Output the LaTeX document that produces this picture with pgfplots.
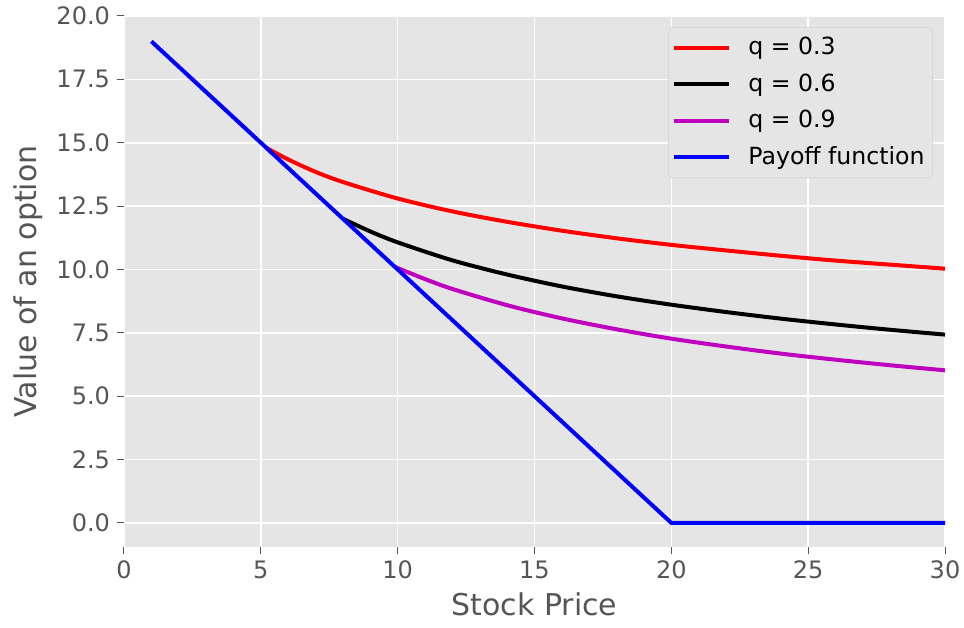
\documentclass[border=0pt]{standalone}
\usepackage{fontspec}
\setmainfont{DejaVu Sans}
\usepackage{pgfplots}
\pgfplotsset{compat=1.18}
\definecolor{bggray}{HTML}{E5E5E5}
\definecolor{txtgray}{HTML}{555555}
\definecolor{mplmag}{rgb}{0.75,0,0.75}
\begin{document}
\begin{tikzpicture}
\begin{axis}[
  name=main,
  scale only axis,
  width=410.5pt, height=265.5pt,
  xmin=0, xmax=30,
  ymin=-0.95, ymax=20,
  xtick={0,5,...,30},
  ytick={0,2.5,...,20},
  yticklabel style={/pgf/number format/.cd, fixed, fixed zerofill, precision=1},
  /pgf/number format/assume math mode=true,
  ticklabel style={font=\fontsize{12}{14}\selectfont, text=txtgray},
  tick align=outside,
  tick pos=left,
  major tick length=3.5pt,
  tick style={txtgray, line width=0.5pt},
  axis line style={draw=none},
  axis background/.style={fill=bggray},
  grid=major,
  major grid style={white, line width=0.8pt},
  xlabel={Stock Price},
  ylabel={Value of an option},
  label style={font=\fontsize{15}{17}\selectfont, text=txtgray},
  legend cell align=left,
  % line sample plus a blank gap before the text
  legend image code/.code={\draw[#1, line width=2pt] (0pt,0pt) -- (27.5pt,0pt); \path (34pt,0pt);},
  legend style={at={(1,1)}, anchor=north east, xshift=-6pt, yshift=-5.5pt,
    font=\fontsize{11.8}{13}\selectfont, fill=bggray, draw=black!15,
    rounded corners=2pt, row sep=4pt, inner xsep=2pt, inner ysep=3pt},
]
\addplot[red, line width=2pt, smooth] coordinates {
  (5.2,14.8) (6,14.34) (7,13.85) (8,13.45) (10,12.80) (12,12.29) (14,11.88)
  (16,11.53) (18,11.23) (20,10.97) (22,10.75) (24,10.54) (26,10.35) (28,10.19) (30,10.03)
};
\addlegendentry{q = 0.3}
\addplot[black, line width=2pt, smooth] coordinates {
  (8,12.0) (9,11.50) (10,11.07) (12,10.36) (14,9.80) (16,9.33) (18,8.94)
  (20,8.61) (22,8.32) (24,8.06) (26,7.83) (28,7.62) (30,7.43)
};
\addlegendentry{q = 0.6}
\addplot[mplmag, line width=2pt, smooth] coordinates {
  (9.9,10.1) (11,9.62) (12,9.23) (14,8.59) (16,8.07) (18,7.64) (20,7.27)
  (22,6.96) (24,6.68) (26,6.44) (28,6.22) (30,6.02)
};
\addlegendentry{q = 0.9}
\addplot[blue, line width=2pt] coordinates {
  (1,19) (20,0) (30,0)
};
\addlegendentry{Payoff function}
\end{axis}
\pgfresetboundingbox
\path ([shift={(-62pt,-40pt)}]main.south west) rectangle ([shift={(9.5pt,8pt)}]main.north east);
\end{tikzpicture}
\end{document}
